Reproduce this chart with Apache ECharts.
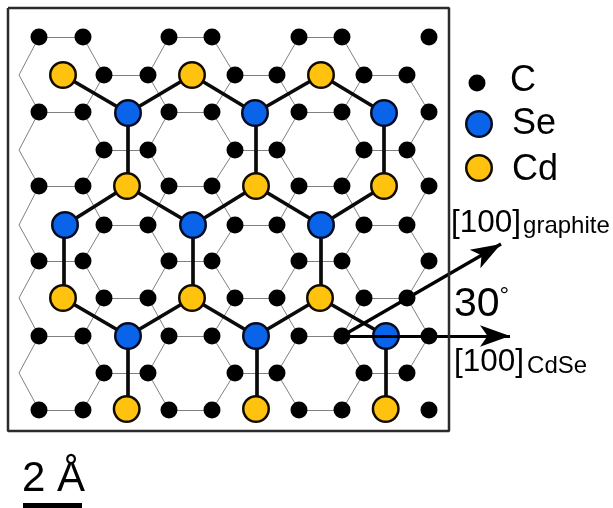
<!DOCTYPE html>
<html><head><meta charset="utf-8">
<style>html,body{margin:0;padding:0;background:#fff}#c{width:613px;height:508px}</style>
<script src="https://cdn.jsdelivr.net/npm/echarts@6/dist/echarts.min.js"></script>
</head><body><div id="c"></div>
<script>
// Atom rows and columns (axis units = image pixels)
const carbonRowsA = [37, 112, 186, 261, 336, 410];
const carbonRowsB = [75, 150, 225, 298, 373];
const carbonColsA = [39, 83, 169, 212, 299, 342, 429];
const carbonColsB = [104, 148, 235, 277, 364, 407];
const hexEdgeLeft = [19];
const seAtoms = [[128,113],[255,113],[384,113],[65,225],[193,225],[321,225],[128,336],[256,336],[386,336]];
const cdAtoms = [[63,75],[192,75],[321,75],[127,186],[256,186],[384,186],[63,298],[192,298],[320,298],[126.7,409],[256,409],[385.7,409]];
const cdseBonds = [
  [[63,75],[128,113]],[[128,113],[192,75]],[[192,75],[255,113]],[[255,113],[321,75]],[[321,75],[384,113]],
  [[128,113],[128,186]],[[256,113],[256,186]],[[384,113],[384,186]],
  [[65,225],[127,186]],[[127,186],[193,225]],[[193,225],[256,186]],[[256,186],[321,225]],[[321,225],[384,186]],
  [[64,225],[64,298]],[[192.5,225],[192.5,298]],[[320.5,225],[320.5,298]],
  [[63,298],[128,336]],[[128,336],[192,298]],[[192,298],[256,336]],[[256,336],[320,298]],[[320,298],[386,336]],
  [[127.7,336],[127.7,409]],[[256.5,336],[256.5,409]],[[386,336],[386,409]]
];
const directionArrows = [[[342,336],[510,336]],[[342,336],[501,244]]];
const frameBox = [[8,8],[449,8],[449,431],[8,431],[8,8]];
const scaleBar = [[23,505.5],[82,505.5]];
const legendC = [[477,83]];
const legendSe = [[479,124]];
const legendCd = [[479,168]];
const legendNames = ['C','Se','Cd'];
const legendTextY = [81,124,170];
const legendTextX = 510;

const carbonAtoms = [];
carbonRowsA.forEach(y => carbonColsA.forEach(x => carbonAtoms.push([x,y])));
carbonRowsB.forEach(y => carbonColsB.forEach(x => carbonAtoms.push([x,y])));

// graphene bonds joining the atom rows
const grapheneBonds = [];
const pairsA = [[39,83],[169,212],[299,342]], pairsB = [[104,148],[235,277],[364,407]];
carbonRowsA.forEach(y => pairsA.forEach(p => grapheneBonds.push([[p[0],y],[p[1],y]])));
carbonRowsB.forEach(y => pairsB.forEach(p => grapheneBonds.push([[p[0],y],[p[1],y]])));
const zig = [[39,hexEdgeLeft[0]],[83,104],[169,148],[212,235],[299,277],[342,364],[429,407]];
const allRows = [37,75,112,150,186,225,261,298,336,373,410];
for (let i = 0; i < allRows.length - 1; i++) {
  const aIsOdd = i % 2 === 0, ya = aIsOdd ? allRows[i] : allRows[i+1], yb = aIsOdd ? allRows[i+1] : allRows[i];
  zig.forEach(z => {
    if (z[0] === 429 && (ya === 37 || ya === 410)) return;
    grapheneBonds.push([[z[0],ya],[z[1],yb]]);
  });
}
const toLines = a => a.map(c => ({coords:c}));
const txt = (x,y,name,label) => ({value:[x,y],name,label});
const F = '"Liberation Sans", Arial, sans-serif';

const chart = echarts.init(document.getElementById('c'), null, {renderer:'canvas'});
chart.setOption({
  animation:false,
  backgroundColor:'#fff',
  grid:{left:0,top:0,width:613,height:508},
  xAxis:{type:'value',min:0,max:613,show:false},
  yAxis:{type:'value',min:0,max:508,inverse:true,show:false},
  series:[
    {type:'lines',coordinateSystem:'cartesian2d',z:1,silent:true,data:toLines(grapheneBonds),
     lineStyle:{color:'#808080',width:1,opacity:1}},
    {type:'scatter',name:'C',z:2,data:carbonAtoms,symbolSize:17,itemStyle:{color:'#000',opacity:1}},
    {type:'lines',coordinateSystem:'cartesian2d',z:3,silent:true,data:toLines(cdseBonds),
     lineStyle:{color:'#0a0a0a',width:3.7,opacity:1}},
    {type:'scatter',name:'Se',z:4,data:seAtoms,symbolSize:25.5,itemStyle:{color:'#0A64EA',borderColor:'#060b20',borderWidth:2.5,opacity:1}},
    {type:'scatter',name:'Cd',z:4,data:cdAtoms,symbolSize:25.5,itemStyle:{color:'#FFC20E',borderColor:'#120c00',borderWidth:2.5,opacity:1}},
    {type:'lines',coordinateSystem:'cartesian2d',z:5,silent:true,data:toLines(directionArrows),
     symbol:['none','arrow'],symbolSize:[0,[16,30]],
     lineStyle:{color:'#000',width:3.2,opacity:1}},
    {type:'line',z:6,silent:true,data:frameBox,showSymbol:false,symbol:'none',
     lineStyle:{color:'#2b2b2b',width:2.5}},
    {type:'line',z:6,silent:true,data:scaleBar,showSymbol:false,symbol:'none',
     lineStyle:{color:'#000',width:5,cap:'butt'}},
    {type:'scatter',z:7,data:legendC,symbolSize:17,itemStyle:{color:'#000',opacity:1}},
    {type:'scatter',z:7,data:legendSe,symbolSize:25.5,itemStyle:{color:'#0A64EA',borderColor:'#060b20',borderWidth:2.5,opacity:1}},
    {type:'scatter',z:7,data:legendCd,symbolSize:25.5,itemStyle:{color:'#FFC20E',borderColor:'#120c00',borderWidth:2.5,opacity:1}},
    {type:'scatter',z:8,symbolSize:0,silent:true,itemStyle:{opacity:1},
     label:{show:true,position:'right',distance:0,fontFamily:F,color:'#000',opacity:1,formatter:'{b}'},
     data:[
       ...legendNames.map((n,i)=>txt(legendTextX+(i?2:0),legendTextY[i],n,{fontSize:36})),
       txt(451,223,'[100]graphite',{formatter:'{a|[100]}{b|graphite}',rich:{a:{fontSize:31.5,fontFamily:F,color:'#000'},b:{fontSize:24,fontFamily:F,color:'#000',padding:[6,0,0,2]}}}),
       txt(454,362,'[100]CdSe',{formatter:'{a|[100]}{b|CdSe}',rich:{a:{fontSize:31.5,fontFamily:F,color:'#000'},b:{fontSize:24,fontFamily:F,color:'#000',padding:[8,0,0,3]}}}),
       txt(454,305,'30°',{formatter:'{a|30}{b|°}',rich:{a:{fontSize:41,fontFamily:F,color:'#000'},b:{fontSize:24,fontFamily:F,color:'#000',verticalAlign:'top',padding:[0,0,18,0]}}}),
       txt(22,479,'2 Å',{fontSize:42})
     ]}
  ]
});
</script></body></html>
